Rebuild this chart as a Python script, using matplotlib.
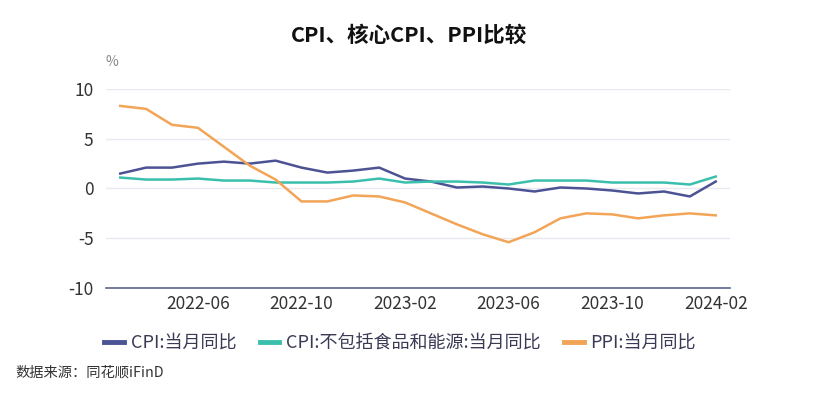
import matplotlib
matplotlib.use("Agg")
import matplotlib.pyplot as plt

plt.rcParams['font.family'] = ['Noto Sans CJK SC', 'DejaVu Sans']
plt.rcParams['axes.unicode_minus'] = False

months = ["2022-03", "2022-04", "2022-05", "2022-06", "2022-07", "2022-08",
          "2022-09", "2022-10", "2022-11", "2022-12", "2023-01", "2023-02",
          "2023-03", "2023-04", "2023-05", "2023-06", "2023-07", "2023-08",
          "2023-09", "2023-10", "2023-11", "2023-12", "2024-01", "2024-02"]
cpi = [1.5, 2.1, 2.1, 2.5, 2.7, 2.5, 2.8, 2.1, 1.6, 1.8, 2.1, 1.0,
       0.7, 0.1, 0.2, 0.0, -0.3, 0.1, 0.0, -0.2, -0.5, -0.3, -0.8, 0.7]
core_cpi = [1.1, 0.9, 0.9, 1.0, 0.8, 0.8, 0.6, 0.6, 0.6, 0.7, 1.0, 0.6,
            0.7, 0.7, 0.6, 0.4, 0.8, 0.8, 0.8, 0.6, 0.6, 0.6, 0.4, 1.2]
ppi = [8.3, 8.0, 6.4, 6.1, 4.2, 2.3, 0.9, -1.3, -1.3, -0.7, -0.8, -1.4,
       -2.5, -3.6, -4.6, -5.4, -4.4, -3.0, -2.5, -2.6, -3.0, -2.7, -2.5, -2.7]

series = [
    ("CPI:当月同比", cpi, "#4b5394"),
    ("CPI:不包括食品和能源:当月同比", core_cpi, "#3bbfad"),
    ("PPI:当月同比", ppi, "#f2a457"),
]

fig = plt.figure(figsize=(8.18, 4.0), dpi=100)
ax = fig.add_axes([0.1296, 0.28, 0.7628, 0.4975])

x = list(range(len(months)))
handles = []
for label, vals, color in series:
    h, = ax.plot(x, vals, color=color, linewidth=1.8, label=label)
    handles.append(h)

ax.set_xlim(-0.55, len(months) - 0.45)
ax.set_ylim(-10, 10)
ax.set_yticks([-10, -5, 0, 5, 10])
ax.set_xticks(x[3::4])
ax.set_xticklabels(months[3::4])

ax.grid(axis="y", color="#e9e9f2", linewidth=1)
ax.set_axisbelow(True)
for side in ["top", "right", "left"]:
    ax.spines[side].set_visible(False)
ax.spines["bottom"].set_color("#5b6590")
ax.spines["bottom"].set_linewidth(1.2)
ax.tick_params(axis="both", length=0, labelsize=12.5, colors="#333333")
ax.tick_params(axis="x", pad=5)
ax.tick_params(axis="y", pad=9)

ax.text(112 / 818, 1 - 62 / 400, "%", transform=fig.transFigure,
        fontsize=10, color="#888888", ha="center", va="center")

fig.text(409 / 818, 1 - 35 / 400, "CPI、核心CPI、PPI比较", fontsize=15.5,
         fontweight="bold", ha="center", va="center", color="#111111")

leg = fig.legend(handles=handles, loc="center", ncol=3,
                 bbox_to_anchor=(400 / 818, 1 - 343 / 400), frameon=False,
                 fontsize=13, handlelength=1.1, handletextpad=0.35,
                 columnspacing=1.3, labelcolor="#3a3a55")
for line in leg.get_lines():
    line.set_linewidth(3.5)

fig.text(15 / 818, 1 - 373 / 400, "数据来源：同花顺iFinD", fontsize=10.3,
         color="#333333", ha="left", va="center")

fig.savefig("out.png", dpi=100)
